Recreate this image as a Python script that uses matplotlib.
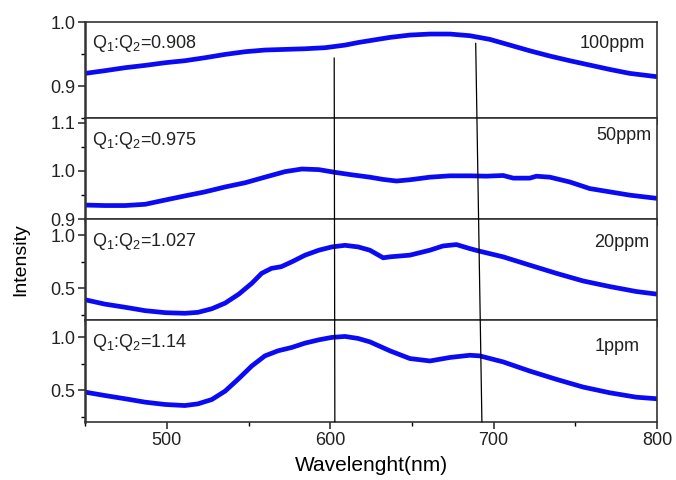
import matplotlib
matplotlib.use("Agg")
import matplotlib.pyplot as plt
from matplotlib.ticker import MultipleLocator
from matplotlib.patches import ConnectionPatch

plt.rcParams['font.family'] = ['Liberation Sans', 'DejaVu Sans']
plt.rcParams['mathtext.fontset'] = 'custom'
plt.rcParams['mathtext.rm'] = 'Liberation Sans'
plt.rcParams['mathtext.it'] = 'Liberation Sans'

# spectra, one list per concentration (wavelength in nm, normalised intensity)
wl_100 = [450, 462, 474.5, 486.7, 499, 511, 523.4, 535.7, 548, 560, 572.4,
          584.6, 597, 609, 617, 624.2, 636.4, 648.7, 661, 673.2, 685.4, 697.6,
          710, 722, 734.4, 746.6, 758.8, 771, 783.3, 800]
int_100 = [0.9198, 0.924, 0.9287, 0.9323, 0.9365, 0.9396, 0.9443, 0.9495,
           0.9537, 0.9563, 0.9573, 0.9583, 0.960, 0.964, 0.968, 0.971, 0.976,
           0.9797, 0.9813, 0.9813, 0.9787, 0.973, 0.964, 0.9552, 0.9469,
           0.9396, 0.9328, 0.926, 0.9198, 0.9146]

wl_50 = [450, 462, 474.5, 486.7, 499, 511, 523.4, 535.7, 548, 560, 572.4,
         582.6, 593, 603, 613, 624.2, 632.4, 640.5, 648.7, 661, 673.2, 685.4,
         695.6, 705.8, 712, 722, 726.2, 734.4, 746.6, 758.8, 771, 783.3, 800]
int_50 = [0.929, 0.928, 0.928, 0.9306, 0.9395, 0.948, 0.9565, 0.9667, 0.9755,
          0.987, 0.9986, 1.004, 1.0027, 0.997, 0.992, 0.987, 0.9823, 0.979,
          0.9816, 0.987, 0.9898, 0.9898, 0.9891, 0.9905, 0.985, 0.985, 0.989,
          0.987, 0.977, 0.9633, 0.9565, 0.9496, 0.9429]

wl_20 = [450, 462, 474.5, 486.7, 499, 511, 519, 527.5, 535.7, 544, 552, 558,
         564, 570, 576.5, 584.6, 593, 601, 609, 617, 624.2, 632.4, 636.5,
         648.7, 661, 669, 677.2, 685.4, 691.5, 705.8, 722, 738.4, 754.7, 771,
         787.3, 800]
int_20 = [0.391, 0.35, 0.32, 0.288, 0.269, 0.263, 0.272, 0.306, 0.36, 0.444,
          0.547, 0.641, 0.688, 0.704, 0.75, 0.813, 0.86, 0.891, 0.906, 0.891,
          0.86, 0.788, 0.797, 0.813, 0.86, 0.9, 0.913, 0.875, 0.85, 0.797,
          0.719, 0.641, 0.569, 0.516, 0.469, 0.444]

wl_1 = [450, 462, 474.5, 486.7, 499, 511, 519, 527.5, 535.7, 544, 552, 560,
        568, 576.5, 584.6, 593, 601, 609, 617, 624.2, 636.5, 648.7, 661,
        673.2, 685.4, 691.5, 705.8, 722, 738.4, 754.7, 771, 787.3, 800]
int_1 = [0.482, 0.45, 0.419, 0.387, 0.365, 0.355, 0.371, 0.412, 0.492, 0.61,
         0.73, 0.825, 0.873, 0.905, 0.946, 0.977, 1.0, 1.009, 0.99, 0.958,
         0.873, 0.8, 0.777, 0.81, 0.831, 0.825, 0.768, 0.682, 0.603, 0.53,
         0.476, 0.434, 0.419]

ratios = ["0.908", "0.975", "1.027", "1.14"]
concs = ["100ppm", "50ppm", "20ppm", "1ppm"]

# guide lines through the two bands: (wavelength at top, value at top in the
# 100ppm panel, wavelength at the bottom axis)
guide_lines = [(602.4, 0.944, 602.8), (689.0, 0.967, 692.8)]

series = [(wl_100, int_100), (wl_50, int_50), (wl_20, int_20), (wl_1, int_1)]
ylims = [(0.85, 1.0), (0.9, 1.11), (0.2, 1.155), (0.2, 1.165)]
ymajor = [0.1, 0.1, 0.5, 0.5]
yminor = [0.05, 0.05, 0.25, 0.25]
label_y = [0.73, 0.78, 0.72, 0.70]
label_x = [0.979, 0.991, 0.986, 0.969]

fig = plt.figure(figsize=(6.76, 4.8), dpi=100)
gs = fig.add_gridspec(4, 1, height_ratios=[96, 101, 101, 102], hspace=0,
                      left=0.126, right=0.972, top=0.954, bottom=0.121)
axes = []
for i in range(4):
    ax = fig.add_subplot(gs[i], sharex=axes[0] if axes else None)
    axes.append(ax)
    x, y = series[i]
    ax.plot(x, y, color='#0a0af5', lw=3.4, solid_joinstyle='round',
            solid_capstyle='butt')
    ax.set_xlim(450, 800)
    ax.set_ylim(*ylims[i])
    ax.yaxis.set_major_locator(MultipleLocator(ymajor[i]))
    ax.yaxis.set_minor_locator(MultipleLocator(yminor[i]))
    ax.xaxis.set_major_locator(MultipleLocator(100))
    ax.xaxis.set_minor_locator(MultipleLocator(50))
    ax.tick_params(which='major', direction='out', length=5, width=1.1,
                   labelsize=13, colors='#222222', pad=2)
    ax.tick_params(which='minor', direction='out', length=3, width=1.0)
    for side, sp in ax.spines.items():
        sp.set_color('#333333')
        sp.set_linewidth(1.8 if side == 'left' else 1.2)
    if i < 3:
        ax.tick_params(axis='x', labelbottom=False)
    ax.text(0.012, 0.73, r'Q$_{\mathrm{1}}$:Q$_{\mathrm{2}}$=' + ratios[i],
            transform=ax.transAxes, fontsize=13, va='baseline', ha='left',
            color='#222222')
    ax.text(label_x[i], label_y[i], concs[i], transform=ax.transAxes,
            fontsize=13, va='baseline', ha='right', color='#222222')

for x_top, y_top, x_bot in guide_lines:
    con = ConnectionPatch(xyA=(x_top, y_top), coordsA=axes[0].transData,
                          xyB=(x_bot, ylims[3][0]), coordsB=axes[3].transData,
                          color='black', lw=0.9)
    fig.add_artist(con)

axes[3].set_xlabel('Wavelenght(nm)', fontsize=15, labelpad=5)
fig.text(0.03, 0.46, 'Intensity', rotation=90, fontsize=14, va='center',
         ha='center')

fig.savefig('out.png', dpi=100)
